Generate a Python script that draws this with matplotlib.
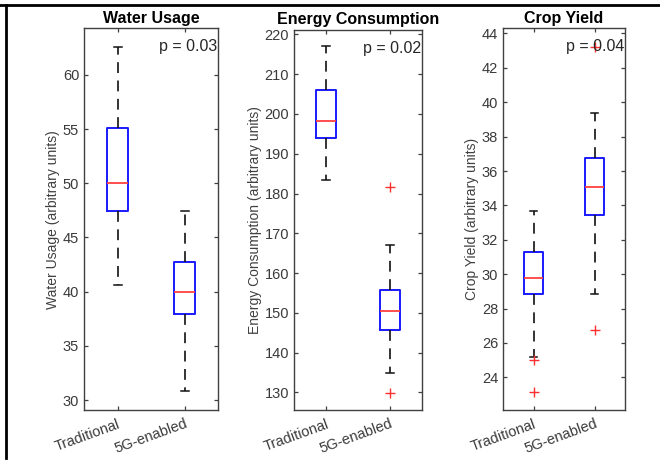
import numpy as np
import matplotlib
matplotlib.use("Agg")
import matplotlib.pyplot as plt
from matplotlib.lines import Line2D

plt.rcParams['font.family'] = ['Liberation Sans', 'DejaVu Sans']

groups = ['Traditional', '5G-enabled']
titles = ['Water Usage', 'Energy Consumption', 'Crop Yield']
ylabels = ['Water Usage (arbitrary units)',
           'Energy Consumption (arbitrary units)',
           'Crop Yield (arbitrary units)']
p_texts = ['p = 0.03', 'p = 0.02', 'p = 0.04']

# box stats: whislo, q1, median, q3, whishi
water_trad = [40.6, 47.4, 50.05, 55.1, 62.6]
water_5g = [30.8, 37.9, 40.0, 42.7, 47.4]
energy_trad = [183.4, 194.0, 198.2, 206.1, 217.1]
energy_5g = [135.0, 145.6, 150.5, 155.8, 167.1]
crop_trad = [25.2, 28.83, 29.75, 31.3, 33.68]
crop_5g = [28.83, 33.42, 35.05, 36.74, 39.36]

# outliers
water_fliers = [[], []]
energy_fliers = [[], [181.6, 129.9]]
crop_fliers = [[25.02, 23.12], [26.74, 43.23]]

yticks = [np.arange(30, 61, 5), np.arange(130, 221, 10), np.arange(24, 45, 2)]
ylims = [(29.08, 64.3), (125.6, 221.1), (22.1, 44.3)]

panels = [([water_trad, water_5g], water_fliers),
          ([energy_trad, energy_5g], energy_fliers),
          ([crop_trad, crop_5g], crop_fliers)]

# axes rectangles in pixels (left, top, right, bottom)
rects = [(84, 28.3, 218.3, 410), (294, 30, 421.7, 410), (503, 28.3, 625, 410)]

W, H = 660, 463
fig = plt.figure(figsize=(6.6, 4.63), dpi=100)

def make_stats(vals, fl):
    lo, q1, med, q3, hi = vals
    return dict(whislo=lo, q1=q1, med=med, q3=q3, whishi=hi, fliers=fl)

for i, (stats, fliers) in enumerate(panels):
    l, t, r, b = rects[i]
    ax = fig.add_axes([l / W, 1 - b / H, (r - l) / W, (b - t) / H])
    bxp_stats = [make_stats(stats[k], fliers[k]) for k in range(2)]
    ax.bxp(bxp_stats, positions=[1, 2], widths=0.31, capwidths=0.12,
           boxprops=dict(color='#1a1aff', lw=1.4),
           medianprops=dict(color='#ff4040', lw=1.3),
           whiskerprops=dict(color='#111111', lw=1.2, linestyle=(0, (6.5, 4.5))),
           capprops=dict(color='#111111', lw=1.1),
           flierprops=dict(marker='+', markeredgecolor='#ff3030',
                           markersize=7, markeredgewidth=1.0, linestyle='none'))
    ax.set_xlim(0.5, 2.5)
    ax.set_ylim(*ylims[i])
    ax.set_yticks(yticks[i])
    ax.set_xticks([1, 2])
    ax.set_xticklabels(groups, rotation=20, ha='right', rotation_mode='anchor')
    ax.tick_params(direction='in', top=True, right=True, length=3,
                   width=0.9, color='#404040', labelcolor='#3a3a3a',
                   labelsize=10.5)
    ax.tick_params(axis='x', pad=5)
    for sp in ax.spines.values():
        sp.set_color('#404040')
        sp.set_linewidth(1.0)
    ax.set_title(titles[i], fontsize=11.5, fontweight='bold', pad=4)
    ax.set_ylabel(ylabels[i], fontsize=10, color='#404040', labelpad=2)
    ax.text(0.995, 0.972, p_texts[i], transform=ax.transAxes, ha='right',
            va='top', fontsize=11.5, color='#262626')

# black frame lines at top and left
fig.add_artist(Line2D([0, 1], [1 - 5 / H, 1 - 5 / H], color='black', lw=2,
                      transform=fig.transFigure))
fig.add_artist(Line2D([6 / W, 6 / W], [0.01, 1 - 5 / H], color='black', lw=2,
                      transform=fig.transFigure))

fig.savefig('out.png', dpi=100)
